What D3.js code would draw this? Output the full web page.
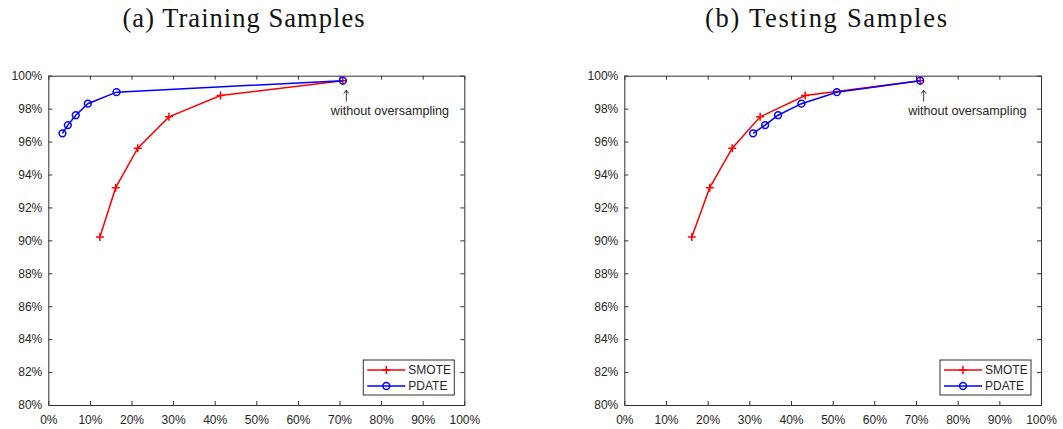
<!DOCTYPE html>
<html>
<head>
<meta charset="utf-8">
<script src="https://cdn.jsdelivr.net/npm/d3@7"></script>
<style>
  html, body { margin: 0; padding: 0; background: #fff; }
  svg { display: block; }
  .tick text { font-family: "Liberation Sans", Arial, sans-serif; font-size: 12px; fill: #262626; }
  .tick line, .domain { stroke: #333; }
</style>
</head>
<body>
<svg id="chart" width="1063" height="429"></svg>
<script>
// False positive rate (x, %) vs. true positive rate (y, %) per oversampling level
const xTicks = [0, 10, 20, 30, 40, 50, 60, 70, 80, 90, 100];
const yTicks = [80, 82, 84, 86, 88, 90, 92, 94, 96, 98, 100];

const panelTitles = ["(a) Training Samples", "(b) Testing Samples"];
const seriesNames = ["SMOTE", "PDATE"];
const annotationText = "without oversampling";

// Training samples
const trainSmoteX = [12.4, 16.2, 21.5, 29.0, 41.4, 70.8];
const trainSmoteY = [90.2, 93.2, 95.6, 97.5, 98.8, 99.7];
const trainPdateX = [3.4, 4.7, 6.6, 9.5, 16.4, 70.8];
const trainPdateY = [96.5, 97.0, 97.6, 98.3, 99.0, 99.7];

// Testing samples
const testSmoteX = [16.2, 20.5, 25.9, 32.6, 43.4, 71.0];
const testSmoteY = [90.2, 93.2, 95.6, 97.5, 98.8, 99.7];
const testPdateX = [30.9, 33.8, 36.9, 42.5, 51.0, 71.0];
const testPdateY = [96.5, 97.0, 97.6, 98.3, 99.0, 99.7];

const svg = d3.select("#chart");
const colors = { SMOTE: "#ff0000", PDATE: "#0000ff" };

const panels = [
  { title: panelTitles[0], titleX: 243.5, left: 48.3, right: 464.3,
    series: [
      { name: seriesNames[0], xs: trainSmoteX, ys: trainSmoteY },
      { name: seriesNames[1], xs: trainPdateX, ys: trainPdateY }
    ] },
  { title: panelTitles[1], titleX: 826, left: 624.3, right: 1041,
    series: [
      { name: seriesNames[0], xs: testSmoteX, ys: testSmoteY },
      { name: seriesNames[1], xs: testPdateX, ys: testPdateY }
    ] }
];

const plotTop = 75.7, plotBottom = 405;

function drawMarker(g, name, cx, cy) {
  if (name === "SMOTE") {
    g.append("path")
      .attr("d", `M${cx - 4},${cy}H${cx + 4}M${cx},${cy - 4}V${cy + 4}`)
      .attr("stroke", colors[name]).attr("stroke-width", 1.5).attr("fill", "none");
  } else {
    g.append("circle")
      .attr("cx", cx).attr("cy", cy).attr("r", 3.4)
      .attr("stroke", colors[name]).attr("stroke-width", 1.5).attr("fill", "none");
  }
}

panels.forEach(p => {
  const x = d3.scaleLinear().domain([0, 100]).range([p.left, p.right]);
  const y = d3.scaleLinear().domain([80, 100]).range([plotBottom, plotTop]);
  const g = svg.append("g");

  // Title
  g.append("text")
    .attr("x", p.titleX).attr("y", 27)
    .attr("text-anchor", "middle")
    .attr("font-family", "'Liberation Serif', 'Times New Roman', serif")
    .attr("font-size", 26.5)
    .attr("textLength", 242).attr("lengthAdjust", "spacing")
    .attr("fill", "#111")
    .text(p.title);

  const pct = d => d + "%";

  // Axes with inward ticks on all four sides
  g.append("g").attr("transform", `translate(0,${plotBottom})`)
    .call(d3.axisBottom(x).tickValues(xTicks).tickFormat(pct).tickSizeInner(-4).tickSizeOuter(0).tickPadding(10));
  g.append("g").attr("transform", `translate(${p.left},0)`)
    .call(d3.axisLeft(y).tickValues(yTicks).tickFormat(pct).tickSizeInner(-4).tickSizeOuter(0).tickPadding(6));
  g.append("g").attr("transform", `translate(0,${plotTop})`)
    .call(d3.axisTop(x).tickValues(xTicks).tickFormat("").tickSizeInner(-4).tickSizeOuter(0));
  g.append("g").attr("transform", `translate(${p.right},0)`)
    .call(d3.axisRight(y).tickValues(yTicks).tickFormat("").tickSizeInner(-4).tickSizeOuter(0));

  // Series lines and markers
  const line = d3.line().x(d => x(d[0])).y(d => y(d[1]));
  p.series.forEach(s => {
    const pts = s.xs.map((v, i) => [v, s.ys[i]]);
    g.append("path").datum(pts)
      .attr("d", line)
      .attr("fill", "none")
      .attr("stroke", colors[s.name])
      .attr("stroke-width", 1.5);
    pts.forEach(d => drawMarker(g, s.name, x(d[0]), y(d[1])));
  });

  // Annotation at the shared end point
  const last = p.series[1];
  const ax = x(last.xs[last.xs.length - 1]);
  const ay = y(last.ys[last.ys.length - 1]);
  g.append("path")
    .attr("d", `M${ax + 3.5},${ay + 21}V${ay + 9.5}M${ax + 1},${ay + 13}L${ax + 3.5},${ay + 9.5}L${ax + 6},${ay + 13}`)
    .attr("stroke", "#262626").attr("stroke-width", 0.9).attr("fill", "none");
  g.append("text")
    .attr("x", ax - 12).attr("y", ay + 34.5)
    .attr("font-family", "'Liberation Sans', Arial, sans-serif")
    .attr("font-size", 12.6)
    .attr("fill", "#262626")
    .text(annotationText);

  // Legend
  const lx = p.right - 101, ly = plotBottom - 45, lw = 91, lh = 35;
  const lg = g.append("g");
  lg.append("rect").attr("x", lx).attr("y", ly).attr("width", lw).attr("height", lh)
    .attr("fill", "#fff").attr("stroke", "#333").attr("stroke-width", 1);
  p.series.forEach((s, i) => {
    const ry = ly + 10 + i * 16;
    lg.append("line").attr("x1", lx + 4).attr("x2", lx + 42).attr("y1", ry).attr("y2", ry)
      .attr("stroke", colors[s.name]).attr("stroke-width", 1.5);
    drawMarker(lg, s.name, lx + 23, ry);
    lg.append("text").attr("x", lx + 45).attr("y", ry).attr("dy", "0.36em")
      .attr("font-family", "'Liberation Sans', Arial, sans-serif")
      .attr("font-size", 12).attr("fill", "#262626")
      .text(s.name);
  });
});
</script>
</body>
</html>
